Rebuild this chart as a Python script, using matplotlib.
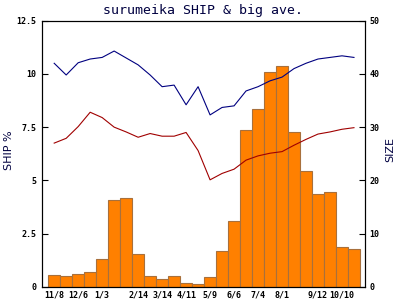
import matplotlib.pyplot as plt

# quincenas (cada 14 dias) desde 11/8
fechas = ['11/8', '11/22', '12/6', '12/20', '1/3', '1/17', '1/31', '2/14', '2/28',
          '3/14', '3/28', '4/11', '4/25', '5/9', '5/23', '6/6', '6/20', '7/4',
          '7/18', '8/1', '8/15', '8/29', '9/12', '9/26', '10/10', '10/24']
etiquetas = ['11/8', '', '12/6', '', '1/3', '', '', '2/14', '', '3/14', '', '4/11', '',
             '5/9', '', '6/6', '', '7/4', '', '8/1', '', '', '9/12', '', '10/10', '']

ship = [0.55, 0.50, 0.58, 0.68, 1.29, 4.07, 4.15, 1.52, 0.50, 0.36, 0.49, 0.20, 0.11,
        0.45, 1.68, 3.08, 7.36, 8.37, 10.09, 10.36, 7.25, 5.43, 4.38, 4.43, 1.85, 1.76]
big_ave = [42.0, 39.8, 42.1, 42.8, 43.1, 44.3, 43.0, 41.7, 39.8, 37.6, 37.9, 34.2, 37.6,
           32.3, 33.7, 34.0, 36.8, 37.6, 38.7, 39.4, 41.0, 42.0, 42.8, 43.1, 43.4, 43.1]
ave = [27.0, 27.9, 30.1, 32.8, 31.8, 30.0, 29.1, 28.1, 28.8, 28.3, 28.3, 29.0, 25.6,
       20.1, 21.3, 22.1, 23.8, 24.6, 25.1, 25.4, 26.6, 27.7, 28.7, 29.1, 29.6, 29.9]

x = list(range(len(fechas)))

fig = plt.figure(figsize=(4, 3), dpi=100)
ax = fig.add_axes([0.104, 0.044, 0.8085, 0.887])

ax.bar(x, ship, width=1.0, color='#ff8000', edgecolor='#a8703c', linewidth=0.8)
ax.set_xlim(-1.05, 25.92)
ax.set_ylim(0, 12.5)
ax.set_yticks([0, 2.5, 5, 7.5, 10, 12.5])
ax.set_yticklabels(['0', '2.5', '5', '7.5', '10', '12.5'], family='DejaVu Sans Mono',
                   fontsize=6, fontweight='bold')
ax.set_xticks(x)
ax.set_xticklabels(etiquetas, family='DejaVu Sans Mono', fontsize=6, fontweight='bold')
ax.tick_params(axis='x', length=0, pad=3)
ax.tick_params(axis='y', direction='in', length=4, pad=4)
ax.set_title('surumeika SHIP & big ave.', family='DejaVu Sans Mono', fontsize=9.5, pad=5,
             color='#000040')

ax2 = ax.twinx()
ax2.plot(x, big_ave, color='#000080', linewidth=0.8)
ax2.plot(x, ave, color='#a00000', linewidth=0.8)
ax2.set_ylim(0, 50)
ax2.set_yticks([0, 10, 20, 30, 40, 50])
ax2.set_yticklabels(['0', '10', '20', '30', '40', '50'], family='DejaVu Sans Mono',
                    fontsize=6, fontweight='bold')
ax2.tick_params(axis='y', direction='in', length=4, pad=3)

# titulos de los ejes
fig.text(0.022, 0.5, 'SHIP %', rotation=90, ha='center', va='center',
         fontsize=8, color='#000040')
fig.text(0.975, 0.5, 'SIZE', rotation=90, ha='center', va='center',
         fontsize=8, color='#000040')

fig.savefig('out.png', dpi=100)
